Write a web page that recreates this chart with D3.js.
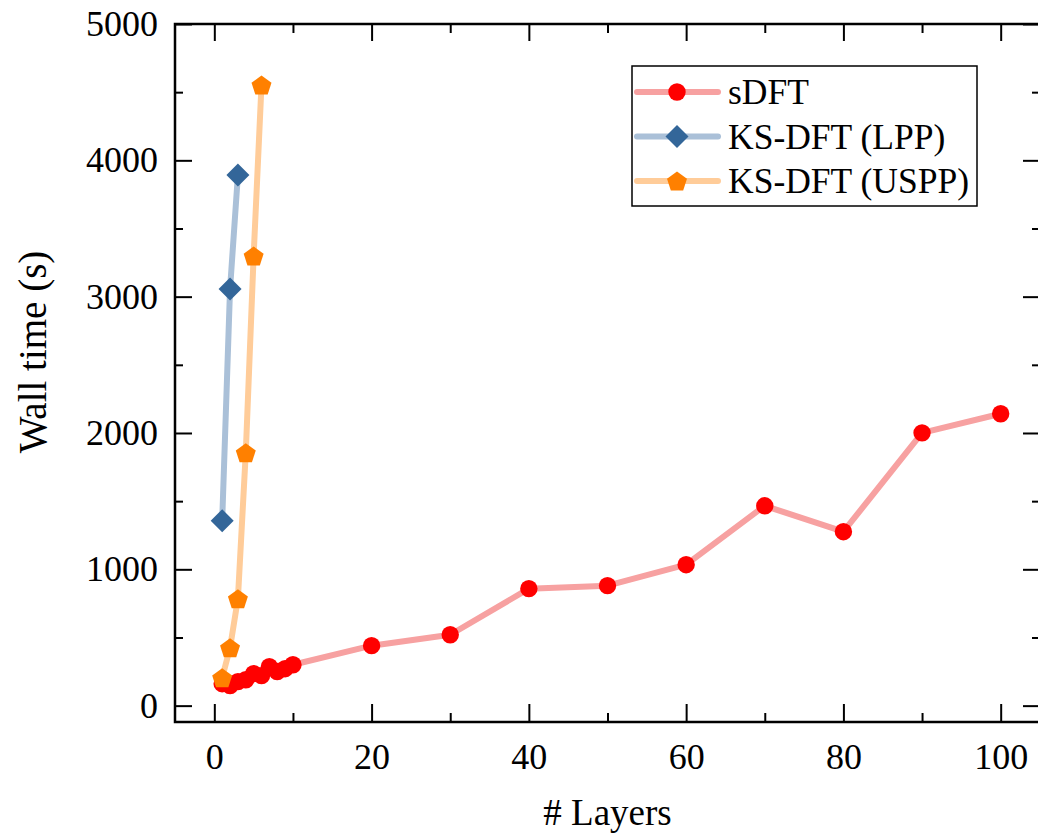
<!DOCTYPE html>
<html>
<head>
<meta charset="utf-8">
<script src="https://cdn.jsdelivr.net/npm/d3@7"></script>
<style>
  body { margin: 0; background: #fff; }
  svg text { font-family: "Liberation Serif", "Times New Roman", serif; fill: #000; }
</style>
</head>
<body>
<svg id="chart" width="1038" height="835"></svg>
<script>
// data
var sdft_x = [1, 2, 3, 4, 5, 6, 7, 8, 9, 10, 20, 30, 40, 50, 60, 70, 80, 90, 100];
var sdft_y = [161, 147, 176, 190, 235, 220, 286, 250, 271, 300, 440, 520, 858, 880, 1034, 1466, 1276, 2001, 2141];
var lpp_x = [1, 2, 3];
var lpp_y = [1356, 3057, 3893];
var uspp_x = [1, 2, 3, 4, 5, 6];
var uspp_y = [205, 425, 784, 1855, 3299, 4553];
var x_ticks = [0, 20, 40, 60, 80, 100];
var y_ticks = [0, 1000, 2000, 3000, 4000, 5000];
var series_names = ["sDFT", "KS-DFT (LPP)", "KS-DFT (USPP)"];

var svg = d3.select("#chart");
var plot_left = 175, plot_right = 1040, plot_top = 24, plot_bottom = 722;

var x = d3.scaleLinear().domain([-5, 105]).range([plot_left, plot_right]);
var y = d3.scaleLinear().domain([-120, 5000]).range([plot_bottom, plot_top]);

var series = [
  { name: series_names[0], xs: sdft_x, ys: sdft_y, line: "#f7a1a1", fill: "#ff0000", shape: "circle" },
  { name: series_names[1], xs: lpp_x, ys: lpp_y, line: "#aac0d8", fill: "#336699", shape: "diamond" },
  { name: series_names[2], xs: uspp_x, ys: uspp_y, line: "#ffcc99", fill: "#ff8000", shape: "pentagon" }
];

function marker_path(shape) {
  if (shape == "circle") return d3.symbol().type(d3.symbolCircle).size(Math.PI * 8.7 * 8.7)();
  if (shape == "diamond") {
    var r = 11.5;
    return "M0," + (-r) + "L" + r + ",0L0," + r + "L" + (-r) + ",0Z";
  }
  var pts = [];
  var rp = 10.5;
  for (var i = 0; i < 5; i++) {
    var a = -Math.PI / 2 + i * 2 * Math.PI / 5;
    pts.push([rp * Math.cos(a), rp * Math.sin(a) + 1]);
  }
  return "M" + pts.join("L") + "Z";
}

var line = d3.line().x(function(d) { return x(d[0]); }).y(function(d) { return y(d[1]); });

var plot = svg.append("g");
series.forEach(function(s) {
  var pts = s.xs.map(function(v, i) { return [v, s.ys[i]]; });
  plot.append("path")
    .attr("d", line(pts))
    .attr("fill", "none")
    .attr("stroke", s.line)
    .attr("stroke-width", 6)
    .attr("stroke-linejoin", "round");
  plot.selectAll(null).data(pts).enter().append("path")
    .attr("d", marker_path(s.shape))
    .attr("transform", function(d) { return "translate(" + x(d[0]) + "," + y(d[1]) + ")"; })
    .attr("fill", s.fill);
});

// axes: major ticks inward on all four sides, plus minor ticks
var x_minor = d3.range(0, 101, 10).filter(function(v) { return x_ticks.indexOf(v) < 0; });
var y_minor = d3.range(500, 5000, 1000);

function draw_axis(axis, transform) {
  var g = svg.append("g").attr("transform", transform).call(axis);
  g.select(".domain").remove();
  g.selectAll(".tick line").attr("stroke", "#000").attr("stroke-width", 2);
  return g;
}

var gx = draw_axis(d3.axisBottom(x).tickValues(x_ticks).tickSizeInner(-18).tickPadding(21), "translate(0," + plot_bottom + ")");
gx.selectAll("text").attr("font-size", 36).attr("font-family", "Liberation Serif");
draw_axis(d3.axisBottom(x).tickValues(x_minor).tickSizeInner(-9).tickFormat(""), "translate(0," + plot_bottom + ")");
draw_axis(d3.axisTop(x).tickValues(x_ticks).tickSizeInner(-17).tickFormat(""), "translate(0," + plot_top + ")");
draw_axis(d3.axisTop(x).tickValues(x_minor).tickSizeInner(-9).tickFormat(""), "translate(0," + plot_top + ")");

var gy = draw_axis(d3.axisLeft(y).tickValues(y_ticks).tickSizeInner(-17).tickPadding(17).tickFormat(d3.format("d")), "translate(" + plot_left + ",0)");
gy.selectAll("text").attr("font-size", 36).attr("font-family", "Liberation Serif");
draw_axis(d3.axisLeft(y).tickValues(y_minor).tickSizeInner(-8).tickFormat(""), "translate(" + plot_left + ",0)");
draw_axis(d3.axisRight(y).tickValues(y_ticks).tickSizeInner(-17).tickFormat(""), "translate(" + plot_right + ",0)");
draw_axis(d3.axisRight(y).tickValues(y_minor).tickSizeInner(-8).tickFormat(""), "translate(" + plot_right + ",0)");

svg.append("rect")
  .attr("x", plot_left).attr("y", plot_top)
  .attr("width", plot_right - plot_left).attr("height", plot_bottom - plot_top)
  .attr("fill", "none").attr("stroke", "#000").attr("stroke-width", 2.5);

// axis titles
svg.append("text")
  .attr("x", (plot_left + plot_right) / 2).attr("y", 825)
  .attr("text-anchor", "middle").attr("font-size", 37)
  .text("# Layers");
svg.append("text")
  .attr("transform", "translate(46,352) rotate(-90)")
  .attr("text-anchor", "middle").attr("font-size", 39)
  .text("Wall time (s)");

// legend
var lg = svg.append("g");
lg.append("rect")
  .attr("x", 632).attr("y", 66).attr("width", 345).attr("height", 140)
  .attr("fill", "#fff").attr("stroke", "#000").attr("stroke-width", 1.5);
series.forEach(function(s, i) {
  var ly = 92 + i * 44.5;
  lg.append("line")
    .attr("x1", 637).attr("x2", 718).attr("y1", ly).attr("y2", ly)
    .attr("stroke", s.line).attr("stroke-width", 6).attr("stroke-linecap", "round");
  lg.append("path")
    .attr("d", marker_path(s.shape))
    .attr("transform", "translate(677," + ly + ")")
    .attr("fill", s.fill);
  lg.append("text")
    .attr("x", 728).attr("y", ly).attr("dy", "0.35em")
    .attr("font-size", 35.5)
    .text(s.name);
});
</script>
</body>
</html>
